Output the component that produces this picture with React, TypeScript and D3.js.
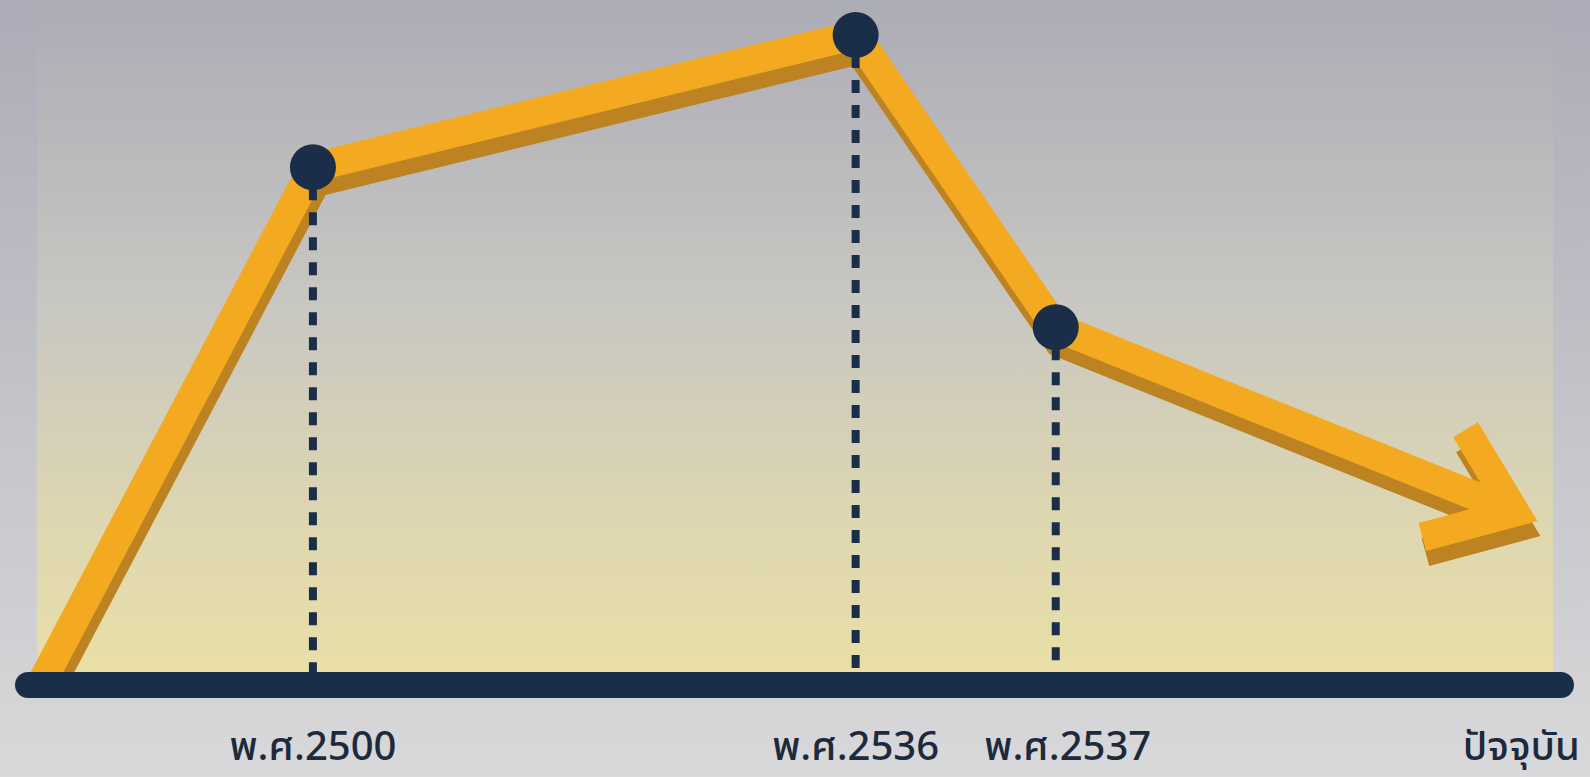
import React from "react";
import * as d3 from "d3";

// ---- data ----
const categories = ["", "พ.ศ.2500", "พ.ศ.2536", "พ.ศ.2537", "ปัจจุบัน"];
const positions = [0.2, 18.2, 54.0, 67.2, 97.5]; // relative time position (0-100)
const levels = [-2, 75.1, 94.8, 51.3, 23.8]; // relative level (0-100)
const markerIndex = [1, 2, 3];

const W = 1590;
const H = 777;

export default function App() {
  const x = d3.scaleLinear().domain([0, 100]).range([37, 1553]);
  const y = d3.scaleLinear().domain([0, 100]).range([672, 0]);
  const axisY = 685;

  const pts: [number, number][] = positions.map((p, i) => [x(p), y(levels[i])]);
  const line = d3.line<[number, number]>().x((d) => d[0]).y((d) => d[1]);
  const mainPath = line(pts) || "";

  // arrow head from direction of last segment
  const a = pts[pts.length - 2];
  const b = pts[pts.length - 1];
  const ang = Math.atan2(a[1] - b[1], a[0] - b[0]);
  const armLen = 96;
  const spread = (37 * Math.PI) / 180;
  const arm1: [number, number] = [b[0] + armLen * Math.cos(ang + spread), b[1] + armLen * Math.sin(ang + spread)];
  const arm2: [number, number] = [b[0] + armLen * Math.cos(ang - spread), b[1] + armLen * Math.sin(ang - spread)];
  const headPath = line([arm1, b, arm2]) || "";

  const bright = "#f4aa20";
  const dark = "#bd8322";
  const navy = "#1b2e49";
  const sw = 29;
  const shadowT = "translate(3,15)";

  return (
    <svg
      width={W}
      height={H}
      style={{ position: "absolute", left: 0, top: 0 }}
      fontFamily="'Noto Sans Thai', 'Noto Sans', Tahoma, sans-serif"
    >
      <defs>
        <linearGradient id="outerBg" x1="0" y1="0" x2="0" y2="1">
          <stop offset="0" stopColor="#abacb7" />
          <stop offset="0.6" stopColor="#c7c7cc" />
          <stop offset="1" stopColor="#d9d9db" />
        </linearGradient>
        <linearGradient id="innerBg" x1="0" y1="0" x2="0" y2="1">
          <stop offset="0" stopColor="#acacb6" />
          <stop offset="0.45" stopColor="#c8c7c2" />
          <stop offset="0.8" stopColor="#dfd8b0" />
          <stop offset="1" stopColor="#e9dfa6" />
        </linearGradient>
        <clipPath id="aboveAxis">
          <rect x={0} y={0} width={W} height={axisY} />
        </clipPath>
      </defs>
      <rect x={0} y={0} width={W} height={H} fill="url(#outerBg)" />
      <rect x={x(0)} y={0} width={x(100) - x(0)} height={y(0)} fill="url(#innerBg)" />

      <g clipPath="url(#aboveAxis)">
        {/* shadow */}
        <g transform={shadowT} fill="none" stroke={dark} strokeWidth={sw} strokeLinejoin="miter">
          <path d={mainPath} />
          <path d={headPath} />
        </g>
        {/* bright */}
        <g fill="none" stroke={bright} strokeWidth={sw} strokeLinejoin="miter">
          <path d={mainPath} />
          <path d={headPath} />
        </g>
      </g>

      {/* dashed guides */}
      {markerIndex.map((i) => (
        <line
          key={"d" + i}
          x1={pts[i][0]}
          x2={pts[i][0]}
          y1={pts[i][1]}
          y2={y(0)}
          stroke={navy}
          strokeWidth={8}
          strokeDasharray="13 12"
          strokeDashoffset={-20}
        />
      ))}
      {markerIndex.map((i) => (
        <circle key={"c" + i} cx={pts[i][0]} cy={pts[i][1]} r={23} fill={navy} />
      ))}

      {/* axis */}
      <line x1={28} x2={1561} y1={axisY} y2={axisY} stroke={navy} strokeWidth={26} strokeLinecap="round" />

      {/* labels */}
      {categories.map((c, i) => {
        if (!c) return null;
        const last = i === categories.length - 1;
        return (
          <text
            key={"t" + i}
            x={last ? W - 10 : pts[i][0] + (i === 3 ? 12 : 0)}
            y={760}
            textAnchor={last ? "end" : "middle"}
            fontSize={40}
            fontWeight={500}
            fill="#1d2a3c"
          >
            {c}
          </text>
        );
      })}
    </svg>
  );
}
